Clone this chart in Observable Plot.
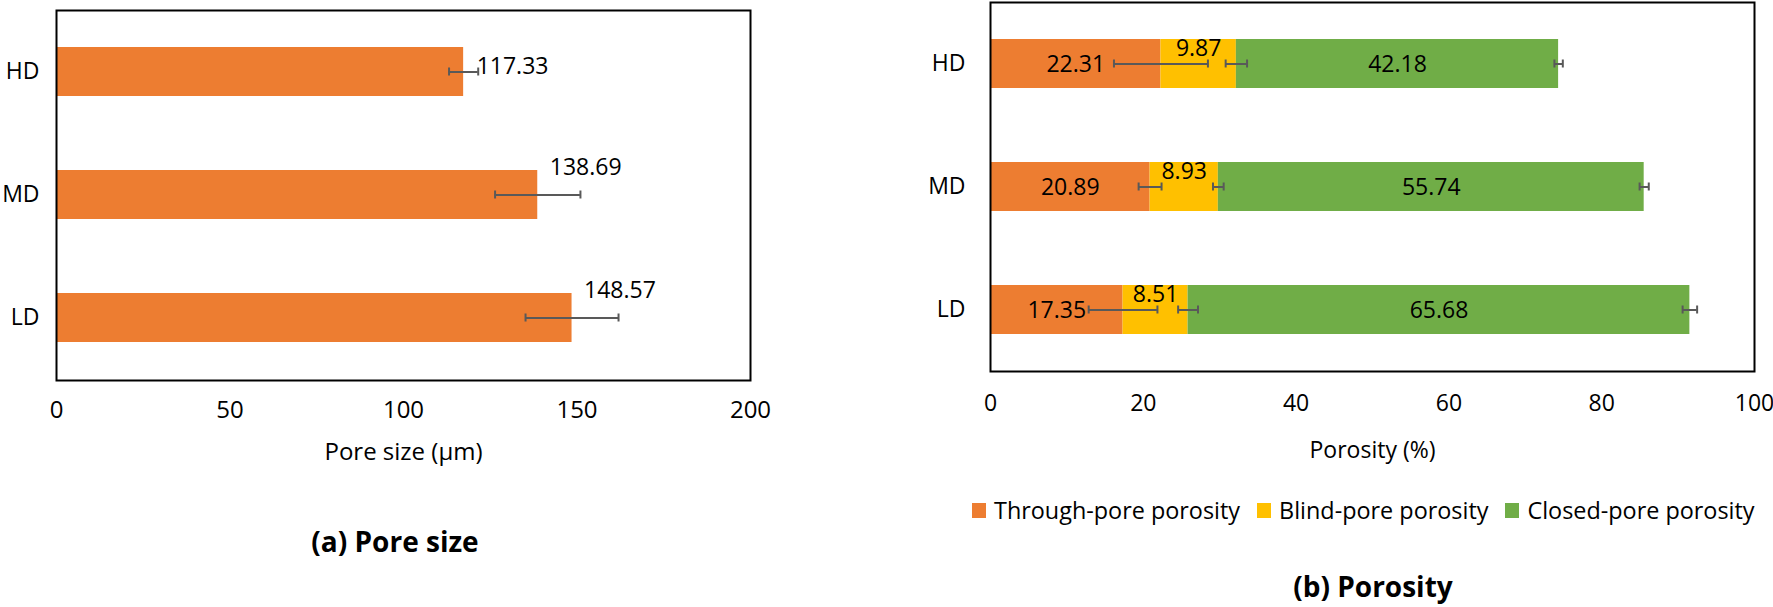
<!DOCTYPE html>
<html><head><meta charset="utf-8">
<script src="https://cdn.jsdelivr.net/npm/d3@7"></script>
<script src="https://cdn.jsdelivr.net/npm/@observablehq/plot@0.6"></script>
<style>
body{margin:0;background:#fff;}
#root{position:relative;width:1773px;height:607px;font-family:'Open Sans',sans-serif;color:#000;overflow:hidden;background:#fff}
.abs{position:absolute}
.title{position:absolute;font-weight:bold;font-size:28px;transform:translate(-50%,-50%);white-space:nowrap;line-height:1}
#legend{position:absolute;left:972px;top:494px;display:flex;align-items:center;font-size:23.4px;white-space:nowrap}
.item{display:flex;align-items:center;margin-right:17px}
.sw{width:14px;height:15px;margin-right:8px}
</style></head>
<body><div id="root">
<div id="pa" class="abs" style="left:0;top:0"></div>
<div id="pb" class="abs" style="left:900px;top:0"></div>
<div id="legend"></div>
<div class="title" style="left:395px;top:541px">(a) Pore size</div>
<div class="title" style="left:1373px;top:586px">(b) Porosity</div>
</div>
<script>
// ---- data ----
const categories = ["HD", "MD", "LD"];
const poreSize = [117.33, 138.69, 148.57];
const poreSizeError = [4.2, 12.3, 13.4];
const poreTicks = [0, 50, 100, 150, 200];

const seriesNames = ["Through-pore porosity", "Blind-pore porosity", "Closed-pore porosity"];
const throughPore = [22.31, 20.89, 17.35];
const blindPore = [9.87, 8.93, 8.51];
const closedPore = [42.18, 55.74, 65.68];
const throughPoreError = [6.15, 1.5, 4.5];
const blindPoreError = [1.4, 0.7, 1.3];
const closedPoreError = [0.55, 0.6, 0.95];
const porosityTicks = [0, 20, 40, 60, 80, 100];
const seriesColors = ["#ED7D31", "#FFC000", "#70AD47"];

// ---- common ----
const FONT = "'Open Sans', sans-serif";
const errColor = "#595959";

// ---- chart (a) ----
const aData = categories.map((c, i) => ({cat: c, value: poreSize[i], err: poreSizeError[i]}));
const plotA = Plot.plot({
  width: 780, height: 470,
  marginLeft: 56, marginRight: 30, marginTop: 10, marginBottom: 90,
  style: {fontFamily: FONT, fontSize: "23px", color: "#000", background: "transparent", overflow: "visible"},
  x: {domain: [0, 200]},
  y: {domain: categories, paddingInner: 0.6, paddingOuter: 0.3},
  marks: [
    Plot.barX(aData, {x: "value", y: "cat", fill: seriesColors[0]}),
    Plot.ruleY(aData, {y: "cat", x1: d => d.value - d.err, x2: d => d.value + d.err, stroke: errColor, strokeWidth: 2}),
    Plot.tickX(aData, {x: d => d.value - d.err, y: "cat", stroke: errColor, strokeWidth: 2, insetTop: 20.5, insetBottom: 20.5}),
    Plot.tickX(aData, {x: d => d.value + d.err, y: "cat", stroke: errColor, strokeWidth: 2, insetTop: 20.5, insetBottom: 20.5}),
    Plot.text(aData.filter(d => d.cat === "HD"), {x: "value", y: "cat", text: d => d.value.toFixed(2), textAnchor: "start", dx: 13, dy: -5, fill: "#000", fontSize: 23}),
    Plot.text(aData.filter(d => d.cat !== "HD"), {x: "value", y: "cat", text: d => d.value.toFixed(2), textAnchor: "start", dx: 12, dy: -27, fill: "#000", fontSize: 23}),
    Plot.axisX({ticks: poreTicks, tickSize: 0, tickPadding: 20, label: "Pore size (µm)", labelAnchor: "center", labelArrow: false, labelOffset: 79, fontSize: 24}),
    Plot.axisY({tickSize: 0, tickPadding: 17, label: null}),
    Plot.frame({stroke: "#000", strokeWidth: 2})
  ]
});
document.getElementById("pa").appendChild(plotA);

// ---- chart (b) ----
const seriesValues = [throughPore, blindPore, closedPore];
const seriesErrors = [throughPoreError, blindPoreError, closedPoreError];
const bRows = [];
categories.forEach((c, i) => {
  let cum = 0;
  seriesNames.forEach((s, j) => {
    const v = seriesValues[j][i];
    bRows.push({cat: c, series: s, value: v, start: cum, end: cum + v, err: seriesErrors[j][i]});
    cum += v;
  });
});
const plotB = Plot.plot({
  width: 873, height: 470,
  marginLeft: 90, marginRight: 19, marginTop: 2, marginBottom: 99,
  style: {fontFamily: FONT, fontSize: "23px", color: "#000", background: "transparent", overflow: "visible"},
  x: {domain: [0, 100]},
  y: {domain: categories, paddingInner: 0.6, paddingOuter: 0.3},
  color: {domain: seriesNames, range: seriesColors},
  marks: [
    Plot.barX(bRows, {x1: "start", x2: "end", y: "cat", fill: "series"}),
    Plot.text(bRows.filter(d => d.series !== seriesNames[1]), {x: d => (d.start + d.end) / 2, y: "cat", text: d => d.value.toFixed(2), dy: 1, fill: "#000", fontSize: 23}),
    Plot.text(bRows.filter(d => d.series === seriesNames[1]), {x: d => (d.start + d.end) / 2, y: "cat", text: d => d.value.toFixed(2), dy: -15, fill: "#000", fontSize: 23}),
    Plot.ruleY(bRows, {y: "cat", x1: d => d.end - d.err, x2: d => d.end + d.err, stroke: errColor, strokeWidth: 2}),
    Plot.tickX(bRows, {x: d => d.end - d.err, y: "cat", stroke: errColor, strokeWidth: 2, insetTop: 20.5, insetBottom: 20.5}),
    Plot.tickX(bRows, {x: d => d.end + d.err, y: "cat", stroke: errColor, strokeWidth: 2, insetTop: 20.5, insetBottom: 20.5}),
    Plot.axisX({ticks: porosityTicks, tickSize: 0, tickPadding: 23, label: "Porosity (%)", labelAnchor: "center", labelArrow: false, labelOffset: 86}),
    Plot.axisY({tickSize: 0, tickPadding: 25, label: null}),
    Plot.frame({stroke: "#000", strokeWidth: 2})
  ]
});
document.getElementById("pb").appendChild(plotB);

// ---- legend ----
const legend = document.getElementById("legend");
seriesNames.forEach((s, j) => {
  const item = document.createElement("div");
  item.className = "item";
  const sw = document.createElement("span");
  sw.className = "sw";
  sw.style.background = seriesColors[j];
  const lab = document.createElement("span");
  lab.textContent = s;
  item.appendChild(sw); item.appendChild(lab);
  legend.appendChild(item);
});
</script>
</body></html>
